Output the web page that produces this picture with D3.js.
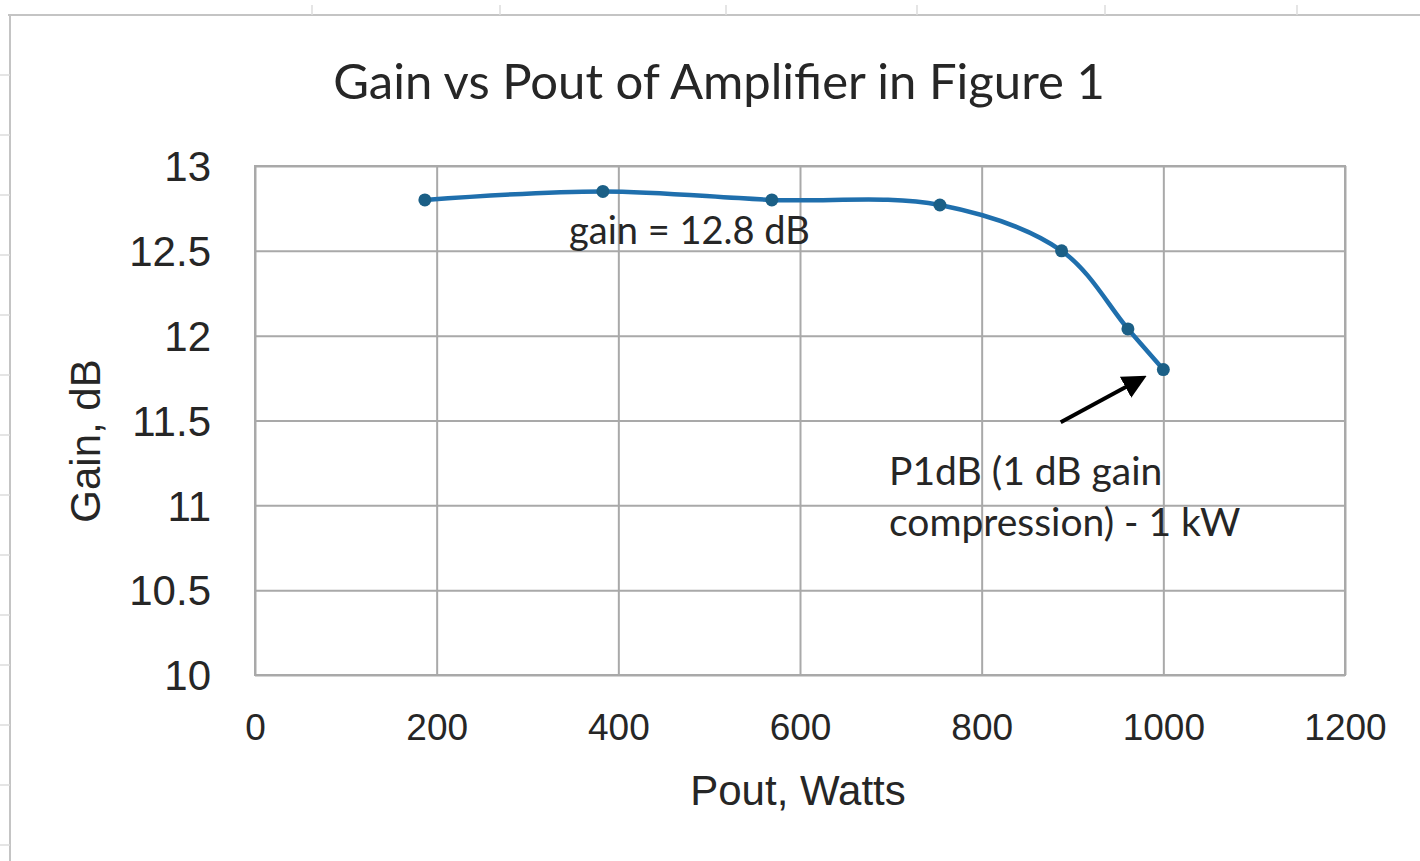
<!DOCTYPE html>
<html>
<head>
<meta charset="utf-8">
<script src="https://cdn.jsdelivr.net/npm/d3@7"></script>
<style>
  html, body { margin: 0; padding: 0; background: #ffffff; }
  svg { display: block; }
</style>
</head>
<body>
<svg id="chart" width="1420" height="861"></svg>
<script>
// ---- data ----
const poutWatts = [187, 383, 569, 754, 888, 961, 1000];
const gainDb = [12.80, 12.85, 12.80, 12.77, 12.50, 12.04, 11.80];
const xTicks = [0, 200, 400, 600, 800, 1000, 1200];
const yTicks = [10, 10.5, 11, 11.5, 12, 12.5, 13];
const titleText = "Gain vs Pout of Amplifier in Figure 1";
const xTitle = "Pout, Watts";
const yTitle = "Gain, dB";
const noteGain = "gain = 12.8 dB";
const noteP1Lines = ["P1dB (1 dB gain", "compression) - 1 kW"];
const arrowFrom = {x: 887, y: 11.49};   // data coords of arrow tail
const arrowTo = {x: 977, y: 11.75};     // data coords of arrow head

// ---- layout ----
const svg = d3.select("#chart");
const plot = {left: 255, right: 1345, top: 166, bottom: 675};

const x = d3.scaleLinear().domain([0, 1200]).range([plot.left, plot.right]);
const y = d3.scaleLinear().domain([10, 13]).range([plot.bottom, plot.top]);

const gridColor = "#a9a9a9";
const tickFont = "'Liberation Sans', Arial, sans-serif";
const textFont = "Lato, 'Open Sans', sans-serif";

// spreadsheet frame (background)
svg.append("line").attr("x1", 8).attr("x2", 1420).attr("y1", 15).attr("y2", 15)
  .attr("stroke", "#c4c4c4").attr("stroke-width", 2);
svg.append("line").attr("x1", 10).attr("x2", 10).attr("y1", 15).attr("y2", 861)
  .attr("stroke", "#c4c4c4").attr("stroke-width", 2);
[312, 500, 726, 917, 1105, 1297].forEach(v => {
  svg.append("line").attr("x1", v).attr("x2", v).attr("y1", 5).attr("y2", 15)
    .attr("stroke", "#dddddd").attr("stroke-width", 1.5);
});
[75, 135, 195, 255, 315, 375, 435, 495, 555, 615, 665, 725, 785, 845].forEach(v => {
  svg.append("line").attr("x1", 0).attr("x2", 10).attr("y1", v).attr("y2", v)
    .attr("stroke", "#dddddd").attr("stroke-width", 1.5);
});

// gridlines via axes
const gx = svg.append("g").attr("transform", `translate(0,${plot.bottom})`)
  .call(d3.axisBottom(x).tickValues(xTicks).tickSize(-(plot.bottom - plot.top)).tickFormat(""));
gx.select(".domain").remove();
gx.selectAll("line").attr("stroke", gridColor).attr("stroke-width", 2);

const gy = svg.append("g").attr("transform", `translate(${plot.left},0)`)
  .call(d3.axisLeft(y).tickValues(yTicks).tickSize(-(plot.right - plot.left)).tickFormat(""));
gy.select(".domain").remove();
gy.selectAll("line").attr("stroke", gridColor).attr("stroke-width", 2);

// plot border
svg.append("rect").attr("x", plot.left).attr("y", plot.top)
  .attr("width", plot.right - plot.left).attr("height", plot.bottom - plot.top)
  .attr("fill", "none").attr("stroke", gridColor).attr("stroke-width", 2);

// tick labels
const xl = svg.append("g").attr("transform", `translate(0,${plot.bottom + 52})`)
  .call(d3.axisBottom(x).tickValues(xTicks).tickSize(0).tickPadding(0).tickFormat(d3.format("d")));
xl.select(".domain").remove();
xl.selectAll("text").attr("font-family", tickFont).attr("font-size", 37)
  .attr("fill", "#262626").attr("dy", "0.35em").attr("y", 0);

const yl = svg.append("g").attr("transform", `translate(${plot.left - 44},0)`)
  .call(d3.axisLeft(y).tickValues(yTicks).tickSize(0).tickPadding(0).tickFormat(d => d3.format("~g")(d)));
yl.select(".domain").remove();
yl.selectAll("text").attr("font-family", tickFont).attr("font-size", 42)
  .attr("fill", "#262626").attr("dy", "0.35em").attr("x", 0);

// titles
svg.append("text").attr("x", 719).attr("y", 99).attr("text-anchor", "middle")
  .attr("font-family", textFont).attr("font-size", 49).attr("fill", "#262626").text(titleText);
svg.append("text").attr("x", 798).attr("y", 805).attr("text-anchor", "middle")
  .attr("font-family", tickFont).attr("font-size", 42).attr("fill", "#262626").text(xTitle);
svg.append("text").attr("transform", "translate(100,441) rotate(-90)").attr("text-anchor", "middle")
  .attr("font-family", tickFont).attr("font-size", 42).attr("fill", "#262626").text(yTitle);

// series line
const line = d3.line().x((d, i) => x(poutWatts[i])).y(d => y(d)).curve(d3.curveCatmullRom.alpha(0.5));
svg.append("path").datum(gainDb).attr("d", line)
  .attr("fill", "none").attr("stroke", "#1f6fad").attr("stroke-width", 4.5)
  .attr("stroke-linecap", "round");
svg.selectAll("circle.pt").data(gainDb).join("circle").attr("class", "pt")
  .attr("cx", (d, i) => x(poutWatts[i])).attr("cy", d => y(d)).attr("r", 6.5)
  .attr("fill", "#1b5f86");

// annotations
svg.append("text").attr("x", 569).attr("y", 244)
  .attr("font-family", textFont).attr("font-size", 38).attr("fill", "#262626").text(noteGain);
svg.append("text").attr("font-family", textFont).attr("font-size", 39).attr("fill", "#262626")
  .selectAll("tspan").data(noteP1Lines).join("tspan")
  .attr("x", 889).attr("y", (d, i) => 485 + i * 51).text(d => d);

// arrow
const defs = svg.append("defs");
defs.append("marker").attr("id", "ah").attr("viewBox", "0 0 10 10").attr("refX", 8).attr("refY", 5)
  .attr("markerWidth", 6).attr("markerHeight", 6).attr("markerUnits", "strokeWidth")
  .attr("orient", "auto")
  .append("path").attr("d", "M0,0 L10,5 L0,10 Z").attr("fill", "#000");
svg.append("line")
  .attr("x1", x(arrowFrom.x)).attr("y1", y(arrowFrom.y))
  .attr("x2", x(arrowTo.x)).attr("y2", y(arrowTo.y))
  .attr("stroke", "#000").attr("stroke-width", 4).attr("marker-end", "url(#ah)");
</script>
</body>
</html>
